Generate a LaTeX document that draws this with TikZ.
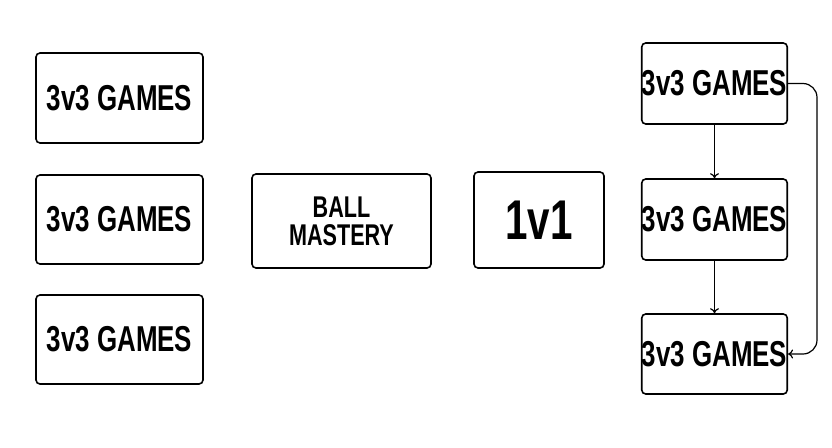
\documentclass[tikz,border=0pt]{standalone}
\usepackage{fontspec}
\setmainfont{Liberation Sans}
\usepackage{graphicx}
\usetikzlibrary{arrows.meta, positioning}

\newcommand{\cond}[1]{\scalebox{0.72}[1]{#1}}

\begin{document}
\begin{tikzpicture}[x=1pt,y=-1pt,thick]

	\tikzset{
		box/.style={
				draw=black, line width=1.6pt, rounded corners=4pt, fill=white,
				inner sep=0pt, align=center, font=\fontsize{36}{36}\selectfont\bfseries
			},
		link/.style={line width=1.2pt, -{To[length=5pt,width=9pt]}},
	}
	\useasboundingbox (0,0) rectangle (832,447);

	% left column
	\node[box, minimum width=167pt, minimum height=90pt] (g1) at (119.5,98) {\cond{3v3 GAMES}};
	\node[box, minimum width=167pt, minimum height=89pt] (g2) at (119.5,219.5) {\cond{3v3 GAMES}};
	\node[box, minimum width=167pt, minimum height=89pt] (g3) at (119.5,339.5) {\cond{3v3 GAMES}};

	% middle
	\node[box, minimum width=179pt, minimum height=94pt,
		font=\fontsize{30}{30}\selectfont\bfseries] (bm) at (341.5,221) {\cond{BALL}\\[-2pt]\cond{MASTERY}};
	\node[box, minimum width=130pt, minimum height=96pt,
		font=\fontsize{56}{56}\selectfont\bfseries] (vs) at (539,220) {\cond{1v1}};

	% right column
	\node[box, minimum width=143pt, minimum height=81pt] (r1) at (714.5,83.5) {\cond{3v3 GAMES}};
	\node[box, minimum width=143pt, minimum height=81pt] (r2) at (714.5,219.5) {\cond{3v3 GAMES}};
	\node[box, minimum width=143pt, minimum height=80pt] (r3) at (714.5,354) {\cond{3v3 GAMES}};

	\draw[link] (r1) -- (r2);
	\draw[link] (r2) -- (r3);
	\draw[link, rounded corners=14pt] (r1.east) -| (817,220) |- (r3.east);

\end{tikzpicture}
\end{document}
